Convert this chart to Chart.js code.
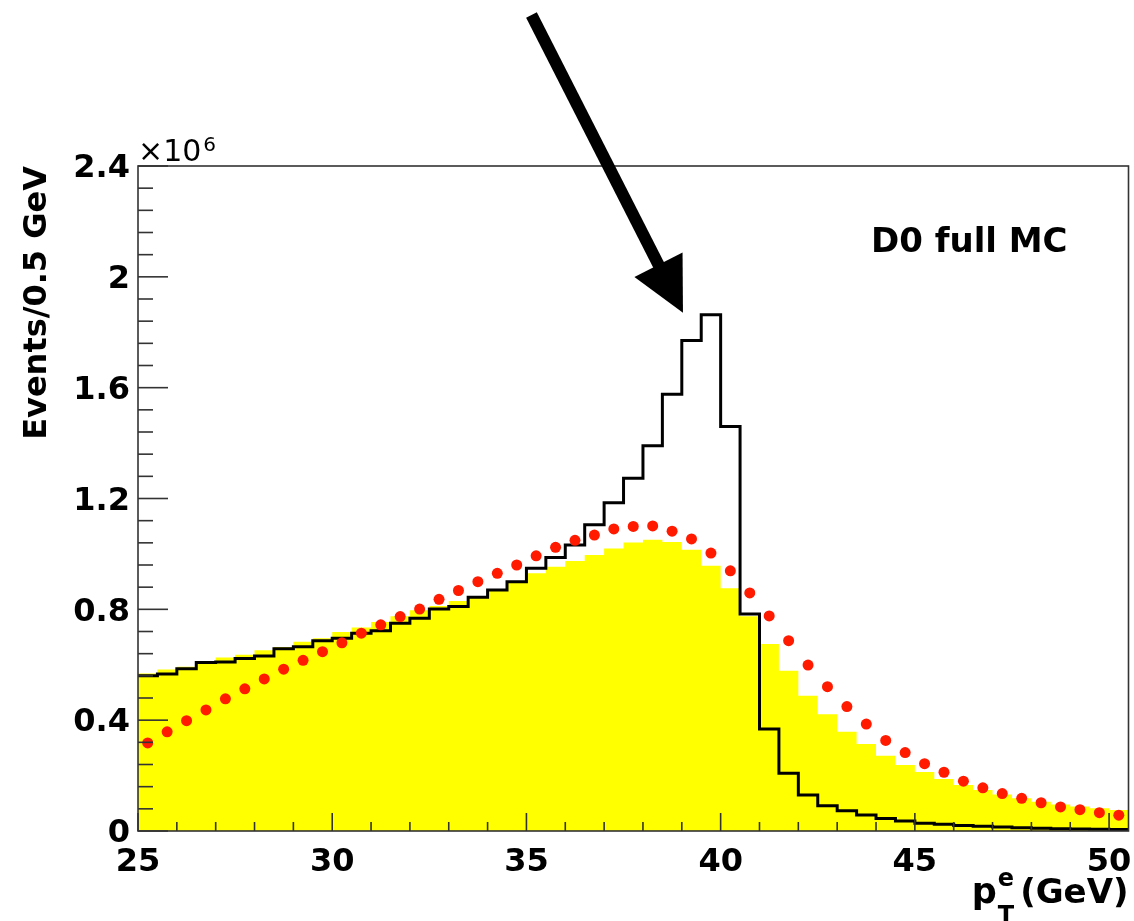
<!DOCTYPE html>
<html>
<head>
<meta charset="utf-8">
<title>Events/0.5 GeV</title>
<script src="https://cdn.jsdelivr.net/npm/chart.js@4/dist/chart.umd.min.js"></script>
<style>
  html, body { margin: 0; padding: 0; background: #fff; }
  #wrap { width: 1134px; height: 921px; }
</style>
</head>
<body>
<div id="wrap"><canvas id="ptChart"></canvas></div>
<script>
// 0.5 GeV bins from 25 to 50.5 GeV, values in units of 10^6 events
const binLow = 25;
const binWidth = 0.5;

const fullMC = [
  0.560, 0.567, 0.586, 0.608, 0.610, 0.623, 0.632, 0.658, 0.665, 0.687,
  0.696, 0.714, 0.723, 0.750, 0.768, 0.801, 0.810, 0.844, 0.870, 0.900,
  0.948, 0.987, 1.032, 1.105, 1.185, 1.273, 1.390, 1.576, 1.770, 1.863,
  1.460, 0.783, 0.368, 0.208, 0.130, 0.091, 0.073, 0.058, 0.045, 0.036,
  0.028, 0.024, 0.020, 0.017, 0.014, 0.012, 0.010, 0.008, 0.007, 0.006, 0.005
];
const yellowHist = [
  0.568, 0.583, 0.593, 0.612, 0.626, 0.636, 0.652, 0.664, 0.683, 0.696,
  0.718, 0.734, 0.754, 0.775, 0.797, 0.812, 0.830, 0.846, 0.872, 0.900,
  0.930, 0.954, 0.974, 0.996, 1.020, 1.041, 1.051, 1.043, 1.015, 0.957,
  0.876, 0.775, 0.675, 0.578, 0.488, 0.421, 0.358, 0.314, 0.272, 0.238,
  0.213, 0.188, 0.166, 0.148, 0.132, 0.118, 0.106, 0.096, 0.088, 0.082, 0.076
];
const redDots = [
  0.318, 0.358, 0.398, 0.437, 0.477, 0.513, 0.549, 0.584, 0.616, 0.647,
  0.679, 0.714, 0.744, 0.774, 0.801, 0.836, 0.868, 0.900, 0.930, 0.960,
  0.993, 1.024, 1.049, 1.068, 1.090, 1.099, 1.101, 1.082, 1.054, 1.003,
  0.939, 0.859, 0.776, 0.687, 0.599, 0.521, 0.449, 0.386, 0.327, 0.283,
  0.243, 0.212, 0.180, 0.156, 0.135, 0.118, 0.102, 0.087, 0.077, 0.066, 0.057
];

const xTicks = [25, 30, 35, 40, 45, 50];
const yTicks = [0, 0.4, 0.8, 1.2, 1.6, 2, 2.4];

// arrow and label spots, in axis units
const arrowFrom = [35.13, 2.945];
const arrowTo = [39.03, 1.87];
const labelAt = [46.4, 2.09];

const FONT = '"DejaVu Sans", "Liberation Sans", sans-serif';

// histogram outline: one point per left bin edge, plus the closing edge
function edgePoints(vals) {
  const pts = vals.map((v, i) => ({x: binLow + i * binWidth, y: v}));
  pts.push({x: binLow + vals.length * binWidth, y: vals[vals.length - 1]});
  return pts;
}
function centerPoints(vals) {
  return vals.map((v, i) => ({x: binLow + (i + 0.5) * binWidth, y: v}));
}

// frame and inward ticks, ROOT style
const framePlugin = {
  id: 'frame',
  afterDatasetsDraw(chart) {
    const c = chart.ctx, a = chart.chartArea;
    const xs = chart.scales.x, ys = chart.scales.y;
    c.save();
    c.strokeStyle = '#333';
    c.lineWidth = 1.6;
    c.strokeRect(a.left, a.top, a.right - a.left, a.bottom - a.top);
    for (let v = 25; v <= 50; v++) {
      const px = xs.getPixelForValue(v);
      const len = v % 5 === 0 ? 18 : 9;
      c.beginPath();
      c.moveTo(px, a.bottom);
      c.lineTo(px, a.bottom - len);
      c.stroke();
    }
    for (let k = 0; k <= 30; k++) {
      const py = ys.getPixelForValue(k * 0.08);
      const len = k % 5 === 0 ? 30 : 15;
      c.beginPath();
      c.moveTo(a.left, py);
      c.lineTo(a.left + len, py);
      c.stroke();
    }
    c.restore();
  }
};

const textPlugin = {
  id: 'texts',
  afterDraw(chart) {
    const c = chart.ctx, a = chart.chartArea;
    const xs = chart.scales.x, ys = chart.scales.y;
    c.save();
    c.fillStyle = '#000';
    c.textBaseline = 'alphabetic';

    // x10^6 multiplier
    c.textAlign = 'left';
    c.font = '30px ' + FONT;
    c.fillText('\u00d710', a.left, a.top - 5);
    const mw = c.measureText('\u00d710').width;
    c.font = '20px ' + FONT;
    c.fillText('6', a.left + mw + 2, a.top - 15);

    // D0 full MC
    c.textAlign = 'center';
    c.font = 'bold 34px ' + FONT;
    c.fillText('D0 full MC', xs.getPixelForValue(labelAt[0]), ys.getPixelForValue(labelAt[1]));

    // x axis title  p_T^e (GeV)
    c.textAlign = 'right';
    c.font = 'bold 34px ' + FONT;
    c.fillText('(GeV)', a.right, a.bottom + 72);
    const gw = c.measureText('(GeV)').width;
    c.font = 'bold 24px ' + FONT;
    const sw = Math.max(c.measureText('e').width, c.measureText('T').width);
    const pRight = a.right - gw - 7 - sw;
    c.textAlign = 'left';
    c.fillText('e', pRight + 1, a.bottom + 55);
    c.fillText('T', pRight + 1, a.bottom + 92);
    c.textAlign = 'right';
    c.font = 'bold 35px ' + FONT;
    c.fillText('p', pRight, a.bottom + 72);

    // arrow
    const x0 = xs.getPixelForValue(arrowFrom[0]), y0 = ys.getPixelForValue(arrowFrom[1]);
    const x1 = xs.getPixelForValue(arrowTo[0]), y1 = ys.getPixelForValue(arrowTo[1]);
    const len = Math.hypot(x1 - x0, y1 - y0);
    const ux = (x1 - x0) / len, uy = (y1 - y0) / len;
    const headLen = 54, headHalf = 27;
    const bx = x1 - ux * headLen, by = y1 - uy * headLen;
    c.strokeStyle = '#000';
    c.lineWidth = 12;
    c.lineCap = 'butt';
    c.beginPath();
    c.moveTo(x0, y0);
    c.lineTo(bx + ux * 4, by + uy * 4);
    c.stroke();
    c.beginPath();
    c.moveTo(x1, y1);
    c.lineTo(bx - uy * headHalf, by + ux * headHalf);
    c.lineTo(bx + uy * headHalf, by - ux * headHalf);
    c.closePath();
    c.fill();
    c.restore();
  }
};

new Chart(document.getElementById('ptChart'), {
  type: 'line',
  data: {
    datasets: [
      {
        type: 'scatter',
        data: centerPoints(redDots),
        backgroundColor: '#ff1a00',
        borderWidth: 0,
        pointRadius: 5.5,
        order: 1
      },
      {
        data: edgePoints(fullMC),
        stepped: true,
        borderColor: '#000',
        borderWidth: 3,
        pointRadius: 0,
        fill: false,
        order: 2
      },
      {
        data: edgePoints(yellowHist),
        stepped: true,
        borderWidth: 0,
        borderColor: 'rgba(0,0,0,0)',
        backgroundColor: '#ffff00',
        pointRadius: 0,
        fill: 'origin',
        order: 3
      }
    ]
  },
  options: {
    responsive: true,
    maintainAspectRatio: false,
    animation: false,
    layout: { padding: { top: 166, right: 3, left: 0, bottom: 0 } },
    plugins: { legend: { display: false }, tooltip: { enabled: false } },
    scales: {
      x: {
        type: 'linear',
        min: 25,
        max: 50.5,
        grid: { display: false },
        border: { display: false },
        afterBuildTicks: s => { s.ticks = xTicks.map(v => ({value: v})); },
        afterFit: s => { s.height = 90; s.paddingRight = 0; },
        ticks: {
          color: '#000',
          padding: 4,
          maxRotation: 0,
          autoSkip: false,
          font: { family: FONT, size: 32, weight: 'bold' },
          callback: v => String(v)
        }
      },
      y: {
        min: 0,
        max: 2.4,
        grid: { display: false },
        border: { display: false },
        afterBuildTicks: s => { s.ticks = yTicks.map(v => ({value: v})); },
        afterFit: s => { s.width = 138; },
        ticks: {
          color: '#000',
          padding: 0,
          labelOffset: 3,
          font: { family: FONT, size: 32, weight: 'bold' },
          callback: v => String(+v.toFixed(1))
        },
        title: {
          display: true,
          text: 'Events/0.5 GeV',
          align: 'end',
          color: '#000',
          padding: { top: 18, bottom: 0 },
          font: { family: FONT, size: 32, weight: 'bold' }
        }
      }
    }
  },
  plugins: [framePlugin, textPlugin]
});
</script>
</body>
</html>
